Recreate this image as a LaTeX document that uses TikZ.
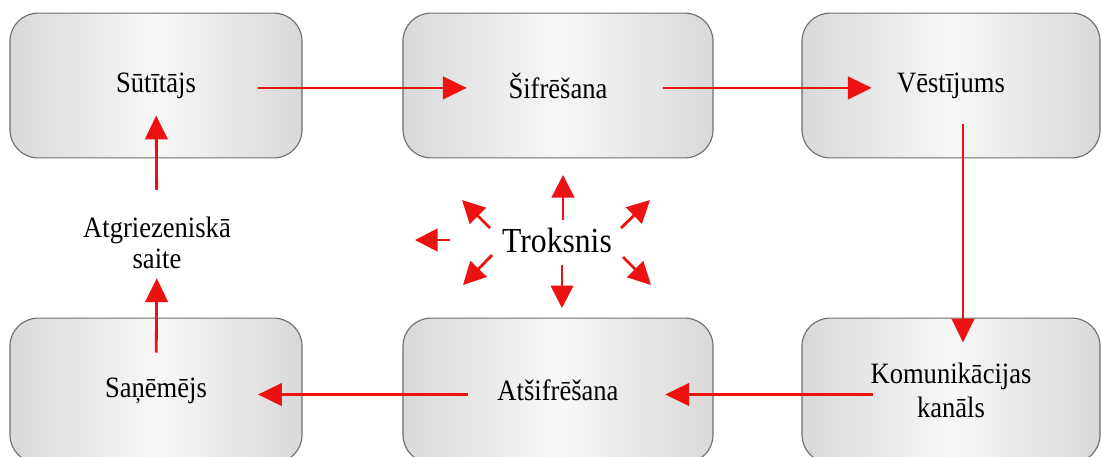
\documentclass[tikz,border=0pt]{standalone}
\usepackage{fontspec}
\setmainfont{Liberation Serif}[FakeStretch=0.9]
\usepackage{xcolor}
\usetikzlibrary{arrows.meta, positioning}
\definecolor{kred}{HTML}{EE1111}
\definecolor{kframe}{HTML}{6E6E6E}

\begin{document}
\begin{tikzpicture}[x=0.025cm, y=-0.025cm,
  stage/.style={draw=kframe, line width=0.8pt, rounded corners=20pt,
    minimum width=7.3cm, minimum height=3.62cm, align=center,
    left color=gray!30, right color=gray!30, middle color=gray!6,
    font=\fontsize{21}{24}\selectfont},
  flow/.style={kred, line width=2pt, -{Triangle[length=17pt, width=16pt]}},
  burst/.style={kred, line width=2pt, -{Triangle[length=16pt, width=16pt]}}]
\useasboundingbox (0,0) rectangle (1102,456);
% top row
\node[stage] (send) at (156,85.5) {Sūtītājs};
\node[stage, minimum width=7.75cm] (enc) at (558,85.5) {Šifrēšana};
\node[stage, minimum width=7.45cm] (msg) at (951,85.5) {Vēstījums};
% bottom row
\node[stage] (rec) at (156,390.5) {Saņēmējs};
\node[stage, minimum width=7.75cm] (dec) at (558,390.5) {Atšifrēšana};
\node[stage, minimum width=7.45cm] (chan) at (951,390.5) {Komunikācijas\\kanāls};
% middle
\node[align=center, font=\fontsize{21}{21.5}\selectfont] (fb) at (157,243) {Atgriezeniskā\\saite};
\node[font=\fontsize{25}{28}\selectfont] (noise) at (557,240) {Troksnis};
% message path
\draw[flow, shorten <=2.55cm, shorten >=2.28cm] ([yshift=-0.06cm]send.center) -- ([yshift=-0.06cm]enc.center);
\draw[flow, shorten <=2.63cm, shorten >=1.98cm] ([yshift=-0.06cm]enc.center) -- ([yshift=-0.06cm]msg.center);
\draw[flow, shorten <=0.95cm, shorten >=1.2cm] ([xshift=0.3cm]msg.center) -- ([xshift=0.3cm]chan.center);
\draw[flow, shorten <=1.95cm, shorten >=2.68cm] ([yshift=-0.1cm]chan.center) -- ([yshift=-0.1cm]dec.center);
\draw[flow, shorten <=2.25cm, shorten >=2.55cm] ([yshift=-0.1cm]dec.center) -- ([yshift=-0.1cm]rec.center);
\draw[flow, shorten <=0.95cm, shorten >=0.88cm] (rec.center) -- (fb.center);
\draw[flow, shorten <=1.33cm, shorten >=0.75cm] (fb.center) -- (send.center);
% noise
\foreach \tx/\ty/\hx/\hy in {6/-20/6/-65, 5/25/5/68, -107/0/-142/0,
    -67/-12/-95/-40, -65/15/-94/45, 64/-12/93/-40, 66/17/94/45}
  \draw[burst] ([shift={(\tx,\ty)}]noise.center) -- ([shift={(\hx,\hy)}]noise.center);
\end{tikzpicture}
\end{document}
